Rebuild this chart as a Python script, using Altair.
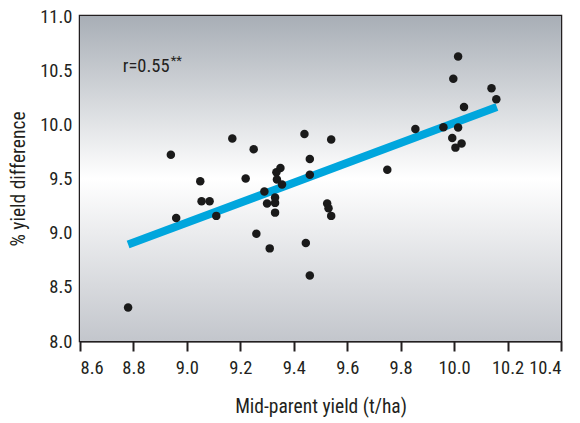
import altair as alt
import pandas as pd

# Mid-parent yield (t/ha)
mid_parent = [8.78, 8.94, 8.96, 9.05, 9.055, 9.085, 9.11, 9.17, 9.22, 9.25,
              9.26, 9.29, 9.31, 9.30, 9.33, 9.33, 9.33, 9.335, 9.35, 9.337,
              9.356, 9.44, 9.46, 9.46, 9.445, 9.46, 9.54, 9.525, 9.53, 9.54,
              9.75, 9.855, 9.96, 10.015, 10.015, 9.997, 10.037, 9.993, 10.028,
              10.005, 10.14, 10.158]
# % yield difference
yield_diff = [8.31, 9.72, 9.135, 9.475, 9.29, 9.29, 9.155, 9.87, 9.50, 9.77,
              8.99, 9.38, 8.855, 9.27, 9.185, 9.275, 9.325, 9.557, 9.597, 9.49,
              9.445, 9.91, 9.68, 9.535, 8.905, 8.605, 9.86, 9.27, 9.225, 9.155,
              9.58, 9.957, 9.972, 9.97, 10.626, 10.42, 10.16, 9.873, 9.824,
              9.785, 10.333, 10.232]

# fitted line end points
fit_x = [8.78, 10.16]
fit_y = [8.89, 10.16]

ann_x = [8.76]
ann_y = [10.535]
ann_text = ["r=0.55"]
ann_sig = ["**"]

x_ticks = [8.6, 8.8, 9.0, 9.2, 9.4, 9.6, 9.8, 10.0, 10.2, 10.4]
y_ticks = [8.0, 8.5, 9.0, 9.5, 10.0, 10.5, 11.0]

FONT = "Roboto Condensed"
WEIGHT = "normal"
INK = "#231f20"

pts = pd.DataFrame({"x": mid_parent, "y": yield_diff})
fit = pd.DataFrame({"x": fit_x, "y": fit_y})
ann = pd.DataFrame({"x": ann_x, "y": ann_y, "t": ann_text, "s": ann_sig})

W, H = 481, 325

xscale = alt.Scale(domain=[8.6, 10.4], nice=False, zero=False)
yscale = alt.Scale(domain=[8.0, 11.0], nice=False, zero=False)

xaxis = alt.Axis(values=x_ticks, format=".1f", grid=False, tickSize=10, tickWidth=2,
                 tickColor=INK, domainColor=INK, domainWidth=2, labelOverlap=False,
                 labelFontSize=18.5, labelColor=INK, labelFont=FONT, labelFontWeight=WEIGHT,
                 labelPadding=7, titleFont=FONT, titleFontSize=19.5,
                 titleFontWeight=WEIGHT, titleColor=INK, titlePadding=21)
yaxis = alt.Axis(values=y_ticks, format=".1f", grid=False, ticks=False,
                 domainColor=INK, domainWidth=2, labelOverlap=False,
                 labelFontSize=18.5, labelColor=INK, labelFont=FONT, labelFontWeight=WEIGHT,
                 labelPadding=8, titleFont=FONT, titleFontSize=19.5,
                 titleFontWeight=WEIGHT, titleColor=INK, titlePadding=11)

bg = alt.Chart(pd.DataFrame({"a": [0]})).mark_rect(
    fill=alt.Gradient(
        gradient="linear",
        stops=[alt.GradientStop(color="#a8aeb6", offset=0),
               alt.GradientStop(color="#ffffff", offset=0.5),
               alt.GradientStop(color="#c3c6cc", offset=1)],
        x1=0, x2=0, y1=0, y2=1)
).encode(x=alt.value(0), x2=alt.value(W), y=alt.value(0), y2=alt.value(H))

line = alt.Chart(fit).mark_line(color="#00a6dd", strokeWidth=8, strokeCap="butt").encode(
    x=alt.X("x:Q", scale=xscale, axis=xaxis, title="Mid-parent yield (t/ha)"),
    y=alt.Y("y:Q", scale=yscale, axis=yaxis, title="% yield difference"),
)

points = alt.Chart(pts).mark_circle(color="#1a1a1a", opacity=1, size=72).encode(
    x=alt.X("x:Q", scale=xscale),
    y=alt.Y("y:Q", scale=yscale),
)

text = alt.Chart(ann).mark_text(align="left", baseline="middle", fontSize=18.5,
                                font=FONT, fontWeight=WEIGHT, color=INK).encode(
    x=alt.X("x:Q", scale=xscale),
    y=alt.Y("y:Q", scale=yscale),
    text="t:N",
)
sig = alt.Chart(ann).mark_text(align="left", baseline="middle", fontSize=13,
                               font=FONT, fontWeight=WEIGHT, color=INK, dx=48, dy=-5).encode(
    x=alt.X("x:Q", scale=xscale),
    y=alt.Y("y:Q", scale=yscale),
    text="s:N",
)

chart = alt.layer(bg, line, points, text, sig).properties(
    width=W, height=H,
    autosize=alt.AutoSizeParams(type="none"),
    padding={"left": 80, "top": 16, "right": 19, "bottom": 82},
).configure_view(stroke=INK, strokeWidth=2.5)

chart.save("out.html", embed_options={"renderer": "svg", "actions": False})
